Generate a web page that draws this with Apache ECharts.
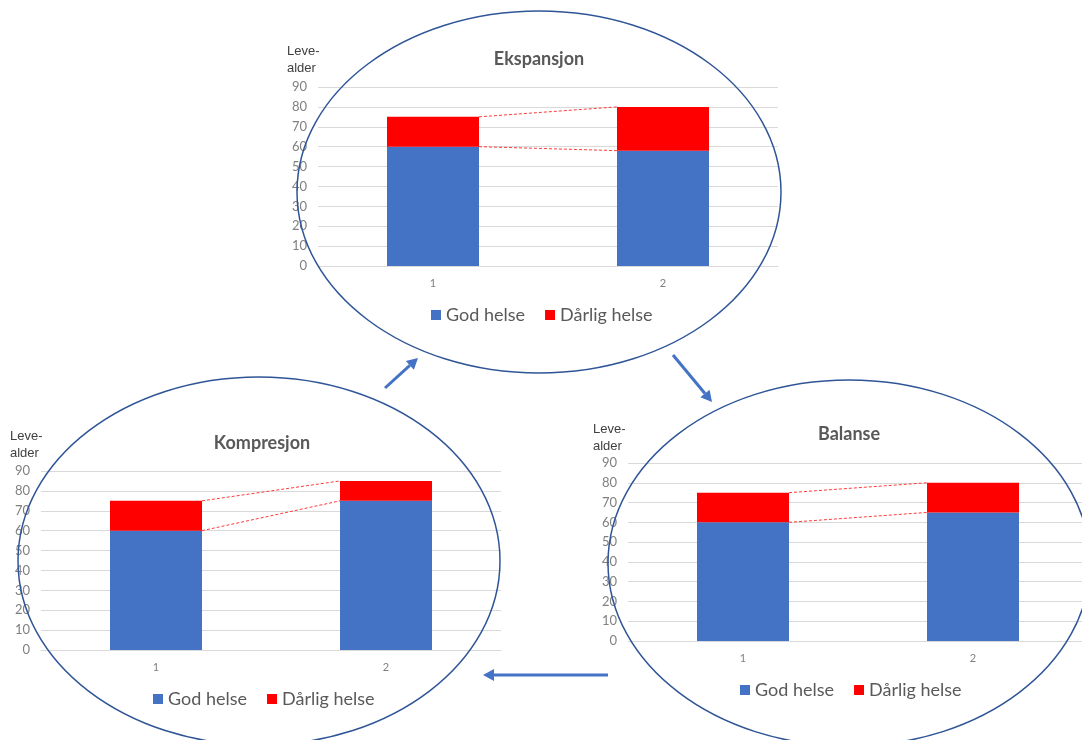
<!DOCTYPE html>
<html>
<head>
<meta charset="utf-8">
<script src="https://cdn.jsdelivr.net/npm/echarts@6/dist/echarts.min.js"></script>
<style>
html,body{margin:0;padding:0;background:#fff;}
#chart{width:1082px;height:740px;}
</style>
</head>
<body>
<div id="chart"></div>
<script>
// ---- data ----
const categories = ['1', '2'];
const seriesNames = ['God helse', 'Dårlig helse'];
const panelTitles = ['Ekspansjon', 'Kompresjon', 'Balanse'];
const ekspGood = [60, 58];
const ekspBad = [15, 22];
const kompGood = [60, 75];
const kompBad = [15, 10];
const balGood = [60, 65];
const balBad = [15, 15];
const yMin = 0, yMax = 90, yStep = 10;
const yAxisTitle = ['Leve-', 'alder'];

// ---- layout / style ----
const FONT = 'Lato, "Open Sans", "Noto Sans", sans-serif';
const BLUE = '#4472C4', RED = '#FF0000', GRID = '#D9D9D9', LABEL = '#808080';
const BAR_W = 92;
const panels = [
  { good: ekspGood, bad: ekspBad, grid: { left: 318, top: 87, width: 460, height: 179 },
    title: [539, 50], lev: [287, 43], legend: [431, 306],
    ellipse: { cx: 539, cy: 192, rx: 242, ry: 181 } },
  { good: kompGood, bad: kompBad, grid: { left: 41, top: 471, width: 460, height: 179 },
    title: [262, 434], lev: [10, 428], legend: [153, 690],
    ellipse: { cx: 259, cy: 561, rx: 241, ry: 184 } },
  { good: balGood, bad: balBad, grid: { left: 628, top: 463, width: 460, height: 178 },
    title: [849, 425], lev: [593, 421], legend: [740, 681],
    ellipse: { cx: 849, cy: 563, rx: 241, ry: 183 } }
];

const grids = [], xAxes = [], yAxes = [], series = [], titles = [], legends = [], graphics = [];

panels.forEach((p, i) => {
  grids.push(Object.assign({ containLabel: false, outerBoundsMode: 'none' }, p.grid));
  xAxes.push({
    type: 'category', gridIndex: i, data: categories,
    axisLine: { lineStyle: { color: GRID, width: 1 } },
    axisTick: { show: false },
    axisLabel: { color: LABEL, fontSize: 11, fontFamily: FONT, margin: 12 }
  });
  yAxes.push({
    type: 'value', gridIndex: i, min: yMin, max: yMax, interval: yStep,
    axisLine: { show: false }, axisTick: { show: false },
    splitLine: { lineStyle: { color: GRID, width: 1 } },
    axisLabel: { color: LABEL, fontSize: 13, fontFamily: FONT, margin: 11 }
  });
  const stack = 'stack' + i;
  series.push({
    name: seriesNames[0], type: 'bar', xAxisIndex: i, yAxisIndex: i, stack: stack,
    barWidth: BAR_W, data: p.good, itemStyle: { color: BLUE }, z: 3
  });
  series.push({
    name: seriesNames[1], type: 'bar', xAxisIndex: i, yAxisIndex: i, stack: stack,
    barWidth: BAR_W, data: p.bad, itemStyle: { color: RED }, z: 3
  });
  // series lines (Excel style) connecting bar tops between categories
  const lines = [
    [0, p.good[0], 1, p.good[1]],
    [0, p.good[0] + p.bad[0], 1, p.good[1] + p.bad[1]]
  ];
  series.push({
    name: 'serieslinjer' + i, type: 'custom', xAxisIndex: i, yAxisIndex: i,
    data: lines, encode: { x: [0, 2], y: [1, 3] }, z: 4, silent: true,
    renderItem: function (params, api) {
      const a = api.coord([api.value(0), api.value(1)]);
      const b = api.coord([api.value(2), api.value(3)]);
      const hw = BAR_W / 2;
      return {
        type: 'line',
        shape: { x1: a[0] + hw, y1: a[1], x2: b[0] - hw, y2: b[1] },
        style: { stroke: '#FF3a3a', lineWidth: 1, lineDash: [3, 2] }
      };
    }
  });
  titles.push({
    text: panelTitles[i], left: p.title[0], top: p.title[1], textAlign: 'center', padding: 0,
    textStyle: { fontSize: 18, fontWeight: 'bold', color: '#595959', fontFamily: FONT }
  });
  legends.push({
    data: seriesNames, left: p.legend[0], top: p.legend[1], padding: 0,
    icon: 'rect', itemWidth: 10, itemHeight: 10, itemGap: 20,
    selectedMode: false,
    textStyle: { fontSize: 18, color: '#595959', fontFamily: FONT }
  });
  graphics.push({
    type: 'text', left: p.lev[0], top: p.lev[1], z: 10,
    style: { text: yAxisTitle.join('\n'), fontSize: 13, lineHeight: 17, fill: '#404040', font: '13px ' + FONT }
  });
  graphics.push({
    type: 'ellipse', shape: p.ellipse, z: 20, silent: true,
    style: { fill: 'none', stroke: '#2F5597', lineWidth: 1.5 }
  });
});

// arrows between panels
function arrow(x1, y1, x2, y2) {
  const ang = Math.atan2(y2 - y1, x2 - x1);
  const L = 11, W = 6;
  const bx = x2 - L * Math.cos(ang), by = y2 - L * Math.sin(ang);
  const nx = -Math.sin(ang), ny = Math.cos(ang);
  return [
    { type: 'line', z: 20, shape: { x1: x1, y1: y1, x2: bx, y2: by },
      style: { stroke: BLUE, lineWidth: 3 } },
    { type: 'polygon', z: 20,
      shape: { points: [[x2, y2], [bx + nx * W, by + ny * W], [bx - nx * W, by - ny * W]] },
      style: { fill: BLUE } }
  ];
}
graphics.push(...arrow(385, 388, 418, 358));
graphics.push(...arrow(673, 355, 712, 402));
graphics.push(...arrow(608, 675, 483, 675));

const chart = echarts.init(document.getElementById('chart'));
chart.setOption({
  animation: false,
  backgroundColor: '#ffffff',
  title: titles,
  legend: legends,
  grid: grids,
  xAxis: xAxes,
  yAxis: yAxes,
  series: series,
  graphic: graphics
});
</script>
</body>
</html>
